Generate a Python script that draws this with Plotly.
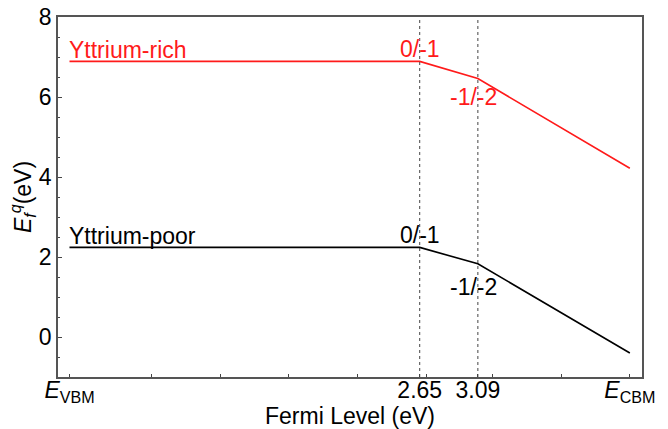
import plotly.graph_objects as go

# Data (Fermi level measured from E_VBM, eV)
E_VBM = 0.0
E_CBM = 4.24
transitions = [2.65, 3.09]
fermi_x = [0.0, 2.65, 3.09, 4.24]
rich_y = [6.89, 6.89, 6.46, 4.22]
poor_y = [2.24, 2.24, 1.83, -0.40]
rich_label = "Yttrium-rich"
poor_label = "Yttrium-poor"
trans_labels = ["0/-1", "-1/-2"]
x_minor_ticks = [0.62, 1.14, 1.66, 2.18, 2.70, 3.20, 3.72]
x_tick_vals = [E_VBM] + transitions + [E_CBM] + x_minor_ticks
x_tick_text = ["<i>E</i><sub>VBM</sub>", "2.65", "3.09", "<i>E</i><sub>CBM</sub>"] + [""] * len(x_minor_ticks)

FONT = "Liberation Sans, Arial, Helvetica, sans-serif"
RED = "#ff1a1a"
FS = 23

fig = go.Figure()
fig.add_trace(go.Scatter(x=fermi_x, y=rich_y, mode="lines",
                         line=dict(color=RED, width=1.6), showlegend=False))
fig.add_trace(go.Scatter(x=fermi_x, y=poor_y, mode="lines",
                         line=dict(color="black", width=1.6), showlegend=False))

for t in transitions:
    fig.add_shape(type="line", x0=t, x1=t, y0=0, y1=1, xref="x", yref="paper",
                  line=dict(color="#444", width=1, dash="dot"))

ann = []
for ys, col, lab, sh in [(rich_y, RED, rich_label, 0), (poor_y, "black", poor_label, -5)]:
    ann.append(dict(x=fermi_x[0], y=ys[0], text=lab, xanchor="left", yanchor="bottom",
                    showarrow=False, font=dict(color=col, size=FS, family=FONT), yshift=-4, xshift=-3))
    ann.append(dict(x=transitions[0], y=ys[1], text=trans_labels[0], xanchor="center", yanchor="bottom",
                    showarrow=False, font=dict(color=col, size=FS, family=FONT), yshift=-3))
    ann.append(dict(x=transitions[1], y=ys[2], text=trans_labels[1], xanchor="center", yanchor="top",
                    showarrow=False, font=dict(color=col, size=FS, family=FONT), yshift=-3 + sh, xshift=-4))
fig.update_layout(annotations=ann)

fig.update_layout(
    width=668, height=429,
    margin=dict(l=57.5, r=26.3, t=16.5, b=51.5, pad=0),
    paper_bgcolor="white", plot_bgcolor="white",
    font=dict(family=FONT, size=FS, color="black"),
    xaxis=dict(range=[-0.087, 4.332], tickmode="array", tickvals=x_tick_vals, ticktext=x_tick_text,
               ticks="inside", ticklen=3, tickcolor="#444", showgrid=False, zeroline=False,
               showline=True, linecolor="#555", linewidth=1.5, mirror=True, automargin=False,
               ticklabelstandoff=-8,
               title=dict(text="Fermi Level (eV)", standoff=0, font=dict(size=FS)),
               tickfont=dict(size=FS)),
    yaxis=dict(range=[-1, 8], tickmode="array", tickvals=[0, 2, 4, 6, 8],
               ticks="inside", ticklen=4, tickcolor="#444", showgrid=False, zeroline=False,
               showline=True, linecolor="#555", linewidth=1.5, mirror=True, automargin=False,
               minor=dict(dtick=0.5, tick0=0, ticks="inside", ticklen=2, tickcolor="#444"),
               title=dict(text="<i>E</i><sub><i>f</i></sub><sup><i>q</i></sup>(eV)", standoff=0, font=dict(size=FS)),
               tickfont=dict(size=FS)),
)

fig.write_html("out.html", post_script="document.body.style.margin='0';",
               config={"displayModeBar": False})
